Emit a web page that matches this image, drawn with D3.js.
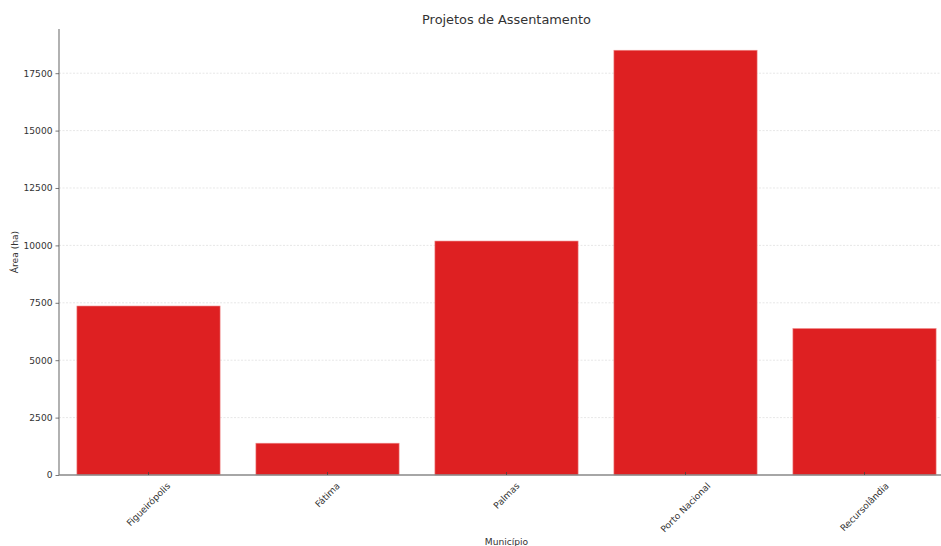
<!DOCTYPE html>
<html>
<head>
<meta charset="utf-8">
<script src="https://cdn.jsdelivr.net/npm/d3@7/dist/d3.min.js"></script>
<style>
  html, body { margin: 0; padding: 0; background: #fff; }
  svg { display: block; font-family: "DejaVu Sans", sans-serif; }
</style>
</head>
<body>
<svg id="chart" width="941" height="546"></svg>
<script>
const categories = ["Figueirópolis", "Fátima", "Palmas", "Porto Nacional", "Recursolândia"];
const areaValues = [7360, 1385, 10190, 18500, 6380];
const yTicks = [0, 2500, 5000, 7500, 10000, 12500, 15000, 17500];
const titleText = "Projetos de Assentamento";
const xLabel = "Município";
const yLabel = "Área (ha)";

const svg = d3.select("#chart");
const W = 941, H = 546;
const x0 = 59, x1 = 954;
const y0 = 475, y1 = 29;

// measure font sizes
const probe = svg.append("text").attr("font-family", "DejaVu Sans").attr("font-size", 10).text("17500");
const w10 = probe.node().getComputedTextLength();
probe.text(titleText);
const t10 = probe.node().getComputedTextLength();
probe.remove();
const fs = Math.min(11, Math.max(8, 10 * 29 / w10));
const tfs = Math.min(14, Math.max(10, 10 * 169 / t10));

const x = d3.scaleBand().domain(categories).range([x0, x1]).paddingInner(0.2).paddingOuter(0.1);
const yMax = d3.max(areaValues) * 1.05;
const y = d3.scaleLinear().domain([0, yMax]).range([y0, y1]);

// grid
svg.append("g").selectAll("line").data(yTicks.filter(d => d > 0)).join("line")
  .attr("x1", x0).attr("x2", W)
  .attr("y1", d => y(d)).attr("y2", d => y(d))
  .attr("stroke", "#dcdcdc").attr("stroke-width", 0.7).attr("stroke-dasharray", "2,1.5");

// bars
svg.append("g").selectAll("rect").data(categories).join("rect")
  .attr("x", d => x(d))
  .attr("width", x.bandwidth())
  .attr("y", (d, i) => y(areaValues[i]))
  .attr("height", (d, i) => y0 - y(areaValues[i]))
  .attr("fill", "#de2022")
  .attr("stroke", "#f08a8a").attr("stroke-width", 0.6);

// y axis
const yAxis = d3.axisLeft(y).tickValues(yTicks).tickSize(3.5).tickPadding(3).tickFormat(d3.format("d"));
const gy = svg.append("g").attr("transform", `translate(${x0},0)`).call(yAxis);
gy.select(".domain").attr("stroke", "#888").attr("stroke-width", 1.3).attr("d", `M0,${y0}V${y1}`);
gy.selectAll(".tick line").attr("stroke", "#555").attr("stroke-width", 0.8);
gy.selectAll(".tick text").attr("font-size", fs).attr("fill", "#333").attr("font-family", "DejaVu Sans");

// x axis
const xAxis = d3.axisBottom(x).tickSize(-3).tickSizeOuter(0).tickFormat(() => "");
const gx = svg.append("g").attr("transform", `translate(0,${y0})`).call(xAxis);
gx.select(".domain").attr("stroke", "#888").attr("stroke-width", 1.3).attr("d", `M${x0},0H${W}`);
gx.selectAll(".tick line").attr("stroke", "#444").attr("stroke-width", 0.8);

// rotated x labels
const lab = svg.append("g").selectAll("text").data(categories).join("text")
  .attr("font-size", fs).attr("fill", "#333").attr("text-anchor", "middle")
  .attr("font-family", "DejaVu Sans")
  .attr("dy", "0.35em")
  .text(d => d);
lab.each(function(d) {
  const L = this.getComputedTextLength();
  const half = (L + fs) * Math.SQRT1_2 / 2;
  const cx = x(d) + x.bandwidth() / 2;
  const cy = y0 + 6 + half;
  d3.select(this).attr("x", cx).attr("y", cy).attr("transform", `rotate(-45,${cx},${cy})`);
});

// title
svg.append("text").attr("x", (x0 + x1) / 2).attr("y", 24)
  .attr("text-anchor", "middle").attr("font-size", tfs).attr("fill", "#333")
  .attr("font-family", "DejaVu Sans").text(titleText);

// axis labels
svg.append("text").attr("x", (x0 + x1) / 2).attr("y", 545)
  .attr("text-anchor", "middle").attr("font-size", fs).attr("fill", "#333")
  .attr("font-family", "DejaVu Sans").text(xLabel);
svg.append("text").attr("transform", `translate(18,${(y0 + y1) / 2}) rotate(-90)`)
  .attr("text-anchor", "middle").attr("font-size", fs).attr("fill", "#333")
  .attr("font-family", "DejaVu Sans").text(yLabel);
</script>
</body>
</html>
